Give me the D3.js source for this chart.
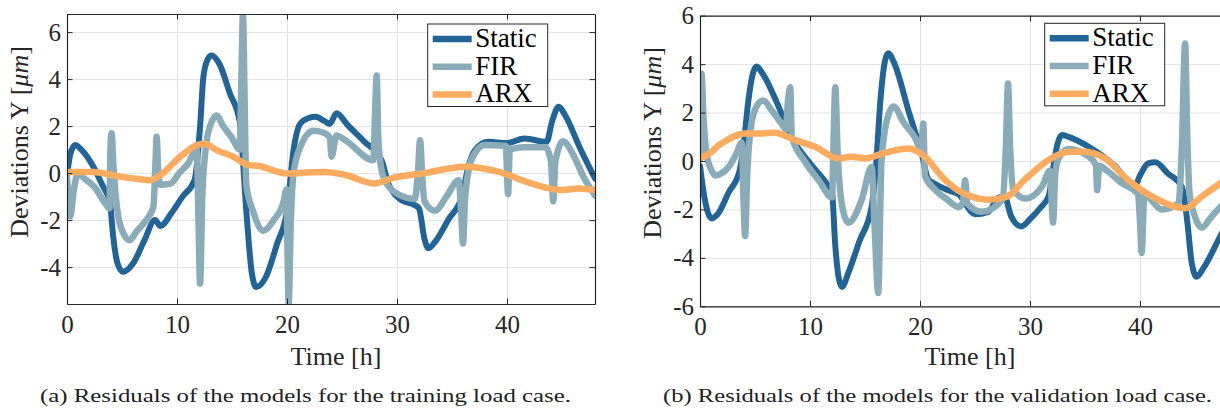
<!DOCTYPE html>
<html>
<head>
  <meta charset="utf-8">
  <title>Residuals</title>
  <script src="https://d3js.org/d3.v7.min.js"></script>
  <style>
    html, body { margin: 0; background: #fff; overflow: hidden; }
    text { font-family: "Liberation Serif", serif; }
  </style>
</head>
<body>
  <div id="chart"></div>
  <script>
    // time axis ticks (hours) and series names
    const xTicks = [0, 10, 20, 30, 40];
    const seriesNames = ['Static', 'FIR', 'ARX'];

    // (a) training load case: [time h, deviation um]
    const trainStatic = [[0,-0.1],[0.3,0.8],[0.75,1.2],[1.3,1.0],[2.4,0.27],[3.2,-0.5],[3.9,-1.25],[4.2,-2.7],[4.6,-3.85],[5.1,-4.2],[6.0,-3.85],[7.0,-2.9],[8.0,-2.0],[8.5,-2.25],[9.5,-1.7],[10.5,-1.0],[11.6,-0.3],[12.1,2.0],[12.4,4.1],[12.8,4.85],[13.15,5.0],[13.9,4.6],[14.8,3.4],[15.7,2.2],[16.3,-1.6],[16.8,-4.25],[17.2,-4.85],[18.1,-4.4],[19.1,-3.0],[20.0,-1.6],[20.6,1.0],[21.2,2.1],[22.0,2.35],[22.6,2.4],[23.45,2.2],[23.9,2.1],[24.5,2.55],[25.5,2.05],[27.0,1.35],[28.6,0.55],[29.2,-0.44],[29.5,-0.72],[30.4,-1.15],[31.6,-1.36],[32.0,-1.5],[32.5,-2.8],[32.85,-3.2],[33.5,-2.9],[34.7,-1.95],[35.9,-1.0],[36.5,0.3],[37.1,0.98],[38.3,1.33],[40.0,1.28],[41.6,1.47],[43.6,1.33],[44.1,2.2],[44.7,2.82],[45.3,2.45],[46.6,1.1],[48,-0.23]];
    const trainFIR = [[0,-0.2],[0.15,-1.0],[0.3,-1.85],[0.6,-0.8],[1.0,0.0],[1.5,-0.2],[2.5,-0.6],[3.5,-1.3],[3.85,-1.5],[3.95,1.0],[4.05,1.7],[4.2,0.5],[4.4,-0.8],[4.9,-2.3],[5.7,-2.85],[6.3,-2.5],[7.2,-2.0],[7.85,-1.45],[8.05,0.5],[8.15,1.55],[8.3,0.0],[8.5,-0.5],[9.4,-0.45],[10.2,0.0],[11.0,0.4],[11.8,1.0],[11.95,-2.0],[12.1,-4.7],[12.3,-1.0],[12.6,1.0],[13.0,2.0],[13.6,2.45],[14.2,2.0],[15.0,1.5],[15.7,1.0],[15.85,4.0],[16.0,6.77],[16.15,3.0],[16.3,-0.5],[16.9,-1.6],[17.85,-2.45],[18.8,-2.0],[19.7,-1.2],[19.95,-0.7],[20.05,-3.5],[20.15,-5.57],[20.35,-2.0],[20.6,0.0],[21.2,1.1],[22.4,1.8],[23.45,1.7],[23.9,1.5],[24.05,0.7],[24.5,1.6],[25.3,1.4],[27.85,0.55],[28.0,2.5],[28.15,4.15],[28.3,1.5],[28.5,0.4],[28.9,-0.3],[30.1,-0.9],[31.6,-1.1],[31.9,0.0],[32.1,1.4],[32.3,-0.2],[32.5,-1.2],[33.45,-1.6],[34.5,-1.0],[35.6,-0.3],[35.85,-1.8],[36.0,-3.0],[36.2,-1.0],[36.8,0.6],[38.0,1.2],[39.9,1.15],[40.0,0.0],[40.1,-0.9],[40.25,1.0],[41.5,1.1],[43.5,1.1],[44.0,0.5],[44.2,-1.2],[44.4,0.5],[45.1,1.35],[46.0,0.8],[47.0,-0.2],[48,-0.95]];
    const trainARX = [[0,0.05],[2.4,0.05],[4.8,-0.15],[6.5,-0.25],[7.55,-0.3],[8.45,-0.1],[10.3,0.7],[11.8,1.19],[12.5,1.25],[13.6,0.98],[15.1,0.7],[16.5,0.34],[17.5,0.3],[19.1,0.06],[20.0,-0.02],[21.8,0.03],[23.45,0.05],[25.3,-0.08],[28.0,-0.44],[29.5,-0.22],[32.5,0.0],[36.2,0.27],[39.2,0.06],[42.2,-0.44],[45.0,-0.72],[46.5,-0.65],[48,-0.72]];

    // (b) validation load case
    const validStatic = [[0,-0.2],[0.4,-1.5],[1.06,-2.37],[1.6,-2.2],[2.6,-1.3],[3.6,-0.4],[4.0,0.8],[4.4,2.5],[4.8,3.6],[5.15,3.9],[5.7,3.6],[7.0,2.4],[8.3,1.0],[10.0,-0.1],[11.7,-1.06],[12.0,-1.3],[12.3,-3.5],[12.6,-4.8],[12.9,-5.2],[13.5,-4.6],[14.5,-3.3],[15.6,-1.9],[16.0,-0.2],[16.4,2.5],[16.8,4.1],[17.1,4.45],[17.6,4.1],[19.0,2.0],[20.15,0.3],[20.75,-0.75],[21.4,-0.95],[22.5,-1.2],[23.6,-1.4],[24.1,-1.75],[25.0,-2.2],[26.2,-2.1],[27.2,-1.5],[27.7,-1.5],[28.3,-2.3],[29.2,-2.7],[30.0,-2.4],[31.0,-1.9],[31.7,-1.45],[32.1,-0.3],[32.5,0.7],[32.9,1.07],[33.5,1.0],[35.3,0.6],[37.7,-0.2],[39.5,-1.05],[40.0,-0.6],[40.75,-0.1],[41.4,-0.05],[42.5,-0.5],[43.8,-1.06],[44.3,-2.5],[44.7,-4.2],[45.15,-4.78],[45.8,-4.4],[47.3,-3.1],[48,-2.5]];
    const validFIR = [[0,0.1],[0.08,2.0],[0.15,3.6],[0.3,2.0],[0.6,0.3],[1.06,-0.4],[1.4,-0.6],[2.0,-0.5],[2.6,-0.25],[3.3,0.3],[3.8,0.75],[3.95,-1.5],[4.1,-3.1],[4.3,-0.5],[4.7,1.6],[5.2,2.3],[5.75,2.5],[6.5,2.1],[7.4,1.55],[7.8,1.3],[8.0,2.5],[8.2,3.05],[8.35,1.0],[9.5,0.0],[10.8,-0.8],[12.0,-1.5],[12.15,1.0],[12.3,3.05],[12.5,0.5],[12.9,-1.8],[13.5,-2.55],[14.7,-1.6],[15.6,-0.25],[15.9,-3.0],[16.2,-5.45],[16.5,0.0],[17.0,1.7],[17.6,2.25],[18.5,1.6],[19.5,1.0],[20.1,0.5],[20.3,1.55],[20.45,-0.6],[21.4,-1.2],[22.5,-1.6],[23.5,-1.9],[23.9,-1.7],[24.1,-0.8],[24.3,-1.75],[25.6,-2.1],[27.5,-1.6],[27.8,0.5],[28.0,3.2],[28.2,0.5],[28.5,-1.2],[29.6,-1.55],[31.1,-1.05],[31.8,-0.4],[32.1,-2.55],[32.3,-0.5],[32.6,0.1],[33.5,0.5],[35.3,0.2],[36.0,-0.2],[36.1,-1.2],[36.3,-0.2],[37.0,-0.4],[38.3,-0.9],[39.8,-1.35],[40.0,-2.5],[40.15,-3.8],[40.4,-1.4],[42.0,-2.0],[43.5,-1.75],[43.8,0.5],[44.1,4.85],[44.3,1.0],[44.5,-1.3],[45.0,-2.3],[45.6,-2.75],[46.5,-2.3],[47.3,-1.9],[48,-1.6]];
    const validARX = [[0,0.14],[0.45,0.2],[1.97,0.73],[4.1,1.14],[5.6,1.14],[6.8,1.17],[8.6,0.87],[10.45,0.59],[12.6,0.11],[13.8,0.18],[15.0,0.11],[16.8,0.34],[18.9,0.52],[20.45,0.18],[22.0,-0.65],[23.4,-1.2],[24.7,-1.47],[26.2,-1.6],[27.9,-1.47],[29.5,-0.78],[31.7,0.04],[33.5,0.38],[35.0,0.38],[36.8,0.11],[38.9,-0.78],[41.4,-1.54],[44.1,-1.95],[45.6,-1.47],[47.3,-0.92],[48,-0.7]];

    const colors = { Static: '#236496', FIR: '#8aacb9', ARX: '#fdab5e' };
    const widths = { Static: 6, FIR: 6.5, ARX: 6.5 };
    const serif = '"Liberation Serif", serif';

    const svg = d3.select('#chart').append('svg')
      .attr('width', 1220)
      .attr('height', 409);

    const panels = [
      { id: 'a', x0: 67, x1: 595, y0: 14, y1: 304, yDomain: [-5.57, 6.77], yTicks: [-4, -2, 0, 2, 4, 6],
        data: { Static: trainStatic, FIR: trainFIR, ARX: trainARX },
        legend: { x: 427.7, y: 24 }, ylabX: 28, ylabY: 142, xlabX: 336,
        caption: '(a) Residuals of the models for the training load case.', capX: 305.5, capLen: 531 },
      { id: 'b', x0: 700, x1: 1228, y0: 15.7, y1: 306.3, yDomain: [-6, 6], yTicks: [-6, -4, -2, 0, 2, 4, 6],
        data: { Static: validStatic, FIR: validFIR, ARX: validARX },
        legend: { x: 1044.7, y: 23.3 }, ylabX: 661, ylabY: 143, xlabX: 970,
        caption: '(b) Residuals of the models for the validation load case.', capX: 937.5, capLen: 549 }
    ];

    panels.forEach(drawPanel);

    function drawPanel(p) {
      const x = d3.scaleLinear().domain([0, 48]).range([p.x0, p.x1]);
      const y = d3.scaleLinear().domain(p.yDomain).range([p.y1, p.y0]);
      const w = p.x1 - p.x0, h = p.y1 - p.y0;
      const g = svg.append('g');

      // grid
      g.append('g')
        .attr('transform', `translate(0,${p.y1})`)
        .call(d3.axisBottom(x).tickValues(xTicks).tickSize(-h).tickFormat(''))
        .call(s => s.select('.domain').remove())
        .selectAll('line').attr('stroke', '#e2e2e2');
      g.append('g')
        .attr('transform', `translate(${p.x0},0)`)
        .call(d3.axisLeft(y).tickValues(p.yTicks).tickSize(-w).tickFormat(''))
        .call(s => s.select('.domain').remove())
        .selectAll('line').attr('stroke', '#e2e2e2');

      // lines
      g.append('clipPath').attr('id', 'clip-' + p.id)
        .append('rect').attr('x', p.x0).attr('y', p.y0).attr('width', w).attr('height', h);

      const line = d3.line()
        .x(d => x(d[0]))
        .y(d => y(d[1]))
        .curve(d3.curveMonotoneX);

      const plot = g.append('g').attr('clip-path', `url(#clip-${p.id})`);
      seriesNames.forEach(name => {
        plot.append('path')
          .datum(p.data[name])
          .attr('d', line)
          .attr('fill', 'none')
          .attr('stroke', colors[name])
          .attr('stroke-width', widths[name])
          .attr('stroke-linejoin', 'round')
          .attr('stroke-linecap', 'round');
      });

      // axes with inward ticks, box on all sides
      const fmt = d => String(d);
      const axStyle = s => {
        s.attr('font-family', serif);
        s.select('.domain').attr('stroke', '#262626').attr('stroke-width', 1.2);
        s.selectAll('.tick line').attr('stroke', '#262626');
        s.selectAll('.tick text')
          .attr('fill', '#262626')
          .style('font-family', serif)
          .style('font-size', '25px');
      };
      g.append('g')
        .attr('transform', `translate(0,${p.y1})`)
        .call(d3.axisBottom(x).tickValues(xTicks).tickFormat(fmt).tickSizeInner(-5.5).tickSizeOuter(0).tickPadding(11))
        .call(axStyle);
      g.append('g')
        .attr('transform', `translate(0,${p.y0})`)
        .call(d3.axisTop(x).tickValues(xTicks).tickFormat('').tickSizeInner(-5.5).tickSizeOuter(0))
        .call(axStyle);
      g.append('g')
        .attr('transform', `translate(${p.x0},0)`)
        .call(d3.axisLeft(y).tickValues(p.yTicks).tickFormat(fmt).tickSizeInner(-5.5).tickSizeOuter(0).tickPadding(6))
        .call(axStyle);
      g.append('g')
        .attr('transform', `translate(${p.x1},0)`)
        .call(d3.axisRight(y).tickValues(p.yTicks).tickFormat('').tickSizeInner(-5.5).tickSizeOuter(0))
        .call(axStyle);

      // axis labels
      g.append('text')
        .attr('x', p.xlabX).attr('y', 365)
        .attr('text-anchor', 'middle')
        .style('font-family', serif)
        .attr('font-size', 26)
        .attr('fill', '#262626')
        .text('Time [h]');
      const yl = g.append('text')
        .attr('transform', `translate(${p.ylabX},${p.ylabY}) rotate(-90)`)
        .attr('text-anchor', 'middle')
        .style('font-family', serif)
        .attr('font-size', 26)
        .attr('fill', '#262626');
      yl.append('tspan').text('Deviations Y [');
      yl.append('tspan').attr('font-style', 'italic').text('μm');
      yl.append('tspan').text(']');

      // legend
      const lg = g.append('g').attr('transform', `translate(${p.legend.x},${p.legend.y})`);
      lg.append('rect')
        .attr('width', 120).attr('height', 82.5)
        .attr('fill', '#fff')
        .attr('stroke', '#262626').attr('stroke-width', 1);
      seriesNames.forEach((name, i) => {
        const ry = 15 + i * 27.7;
        lg.append('line')
          .attr('x1', 5).attr('x2', 44).attr('y1', ry).attr('y2', ry)
          .attr('stroke', colors[name]).attr('stroke-width', 6.5);
        lg.append('text')
          .attr('x', 47.5).attr('y', ry + 8)
          .style('font-family', serif)
          .attr('font-size', 27)
          .attr('fill', '#000')
          .text(name);
      });

      // caption
      svg.append('text')
        .attr('x', p.capX).attr('y', 402)
        .attr('text-anchor', 'middle')
        .style('font-family', serif)
        .attr('font-size', 19)
        .attr('fill', '#222')
        .attr('textLength', p.capLen)
        .attr('lengthAdjust', 'spacingAndGlyphs')
        .text(p.caption);
    }
  </script>
</body>
</html>
